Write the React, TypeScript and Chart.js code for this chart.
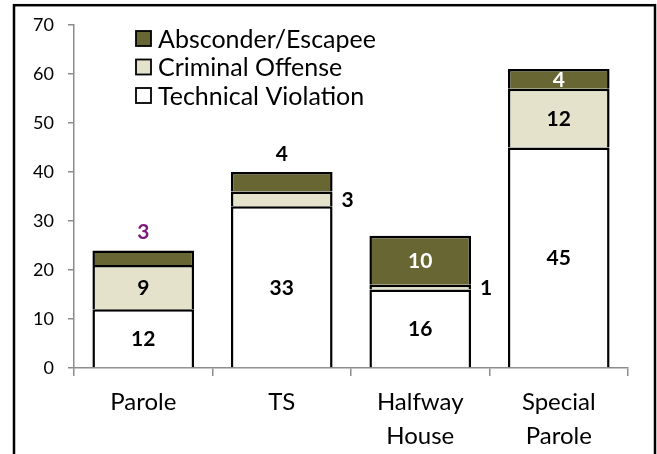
import React, { useEffect, useRef } from 'react';
import { Chart, registerables } from 'chart.js';

Chart.register(...registerables);

const categories: string[][] = [['Parole'], ['TS'], ['Halfway', 'House'], ['Special', 'Parole']];
const seriesNames = ['Technical Violation', 'Criminal Offense', 'Absconder/Escapee'];
const technicalViolation = [12, 33, 16, 45];
const criminalOffense = [9, 3, 1, 12];
const absconderEscapee = [3, 4, 10, 4];
const yMin = 0;
const yMax = 70;
const yStep = 10;

// styling (not data)
const seriesColors = ['#FFFFFF', '#E4E2CB', '#686733'];
const labelPlacement = [
  ['in', 'in', 'in', 'in'],
  ['in', 'right', 'right', 'in'],
  ['above', 'above', 'in', 'in'],
];
const labelColors = [
  ['#000', '#000', '#000', '#000'],
  ['#000', '#000', '#000', '#000'],
  ['#7A1A7A', '#000', '#fff', '#fff'],
];

const FONT = 'Lato, "Open Sans", sans-serif';

const borderPlugin = {
  id: 'outerBorder',
  afterDraw(chart: any) {
    const ctx = chart.ctx;
    ctx.save();
    ctx.strokeStyle = '#000';
    ctx.lineWidth = 2.5;
    ctx.strokeRect(14, 5.2, 641, 470);
    ctx.restore();
  },
};

const legendPlugin = {
  id: 'customLegend',
  afterDraw(chart: any) {
    const ctx = chart.ctx;
    const ds = chart.data.datasets;
    ctx.save();
    ctx.font = `25px ${FONT}`;
    ctx.textBaseline = 'middle';
    ctx.textAlign = 'left';
    const order = [2, 1, 0];
    order.forEach((di, row) => {
      const cy = 38.5 + row * 28.5;
      ctx.fillStyle = ds[di].backgroundColor;
      ctx.fillRect(136, cy - 7.5, 15, 15);
      ctx.strokeStyle = '#000';
      ctx.lineWidth = 1.8;
      ctx.strokeRect(136, cy - 7.5, 15, 15);
      ctx.fillStyle = '#000';
      ctx.fillText(ds[di].label, 158, cy + 1);
    });
    ctx.restore();
  },
};

const labelPlugin = {
  id: 'valueLabels',
  afterDatasetsDraw(chart: any) {
    const ctx = chart.ctx;
    ctx.save();
    ctx.font = `bold 21px ${FONT}`;
    chart.data.datasets.forEach((ds: any, di: number) => {
      const meta = chart.getDatasetMeta(di);
      meta.data.forEach((bar: any, j: number) => {
        const v = ds.data[j];
        const place = labelPlacement[di][j];
        ctx.fillStyle = labelColors[di][j];
        const top = Math.min(bar.y, bar.base);
        const bottom = Math.max(bar.y, bar.base);
        const cy = (top + bottom) / 2;
        if (place === 'in') {
          ctx.textAlign = 'center';
          ctx.textBaseline = 'middle';
          ctx.fillText(String(v), bar.x, cy + 1);
        } else if (place === 'right') {
          ctx.textAlign = 'left';
          ctx.textBaseline = 'middle';
          ctx.fillText(String(v), bar.x + bar.width / 2 + 9, cy + 1);
        } else {
          ctx.textAlign = 'center';
          ctx.textBaseline = 'middle';
          ctx.fillText(String(v), bar.x, top - 18);
        }
      });
    });
    ctx.restore();
  },
};

export default function App() {
  const ref = useRef<HTMLCanvasElement | null>(null);
  useEffect(() => {
    if (!ref.current) return;
    const values = [technicalViolation, criminalOffense, absconderEscapee];
    const chart = new Chart(ref.current, {
      type: 'bar',
      data: {
        labels: categories,
        datasets: values.map((d, i) => ({
          label: seriesNames[i],
          data: d,
          backgroundColor: seriesColors[i],
          borderColor: '#000',
          borderWidth: 2.5,
          borderSkipped: 'start',
          barPercentage: 0.734,
          categoryPercentage: 1,
        })),
      },
      options: {
        responsive: false,
        animation: false,
        layout: { padding: { top: 25, right: 29, left: 0, bottom: 0 } },
        plugins: {
          legend: { display: false },
          tooltip: { enabled: false },
          title: { display: false },
        },
        scales: {
          x: {
            stacked: true,
            grid: {
              offset: true,
              drawOnChartArea: false,
              tickLength: 8,
              color: '#8c8c8c',
              lineWidth: 1.5,
            },
            border: { color: '#8c8c8c', width: 1.5 },
            ticks: {
              color: '#000',
              font: { family: FONT, size: 24, lineHeight: 1.42 },
              padding: 9,
              maxRotation: 0,
              autoSkip: false,
            },
            afterFit(scale: any) {
              scale.height = 86;
            },
          },
          y: {
            stacked: true,
            min: yMin,
            max: yMax,
            grid: {
              drawOnChartArea: false,
              tickLength: 6,
              color: '#8c8c8c',
              lineWidth: 1.5,
            },
            border: { color: '#8c8c8c', width: 1.5 },
            ticks: {
              stepSize: yStep,
              color: '#000',
              font: { family: FONT, size: 18 },
              padding: 14,
            },
            afterFit(scale: any) {
              scale.width = 74;
            },
          },
        },
      },
      plugins: [labelPlugin, legendPlugin, borderPlugin],
    });
    return () => chart.destroy();
  }, []);
  return (
    <div style={{ position: 'absolute', left: 0, top: 0, width: 657, height: 454, background: '#fff' }}>
      <canvas ref={ref} width={657} height={454} style={{ display: 'block' }} />
    </div>
  );
}
